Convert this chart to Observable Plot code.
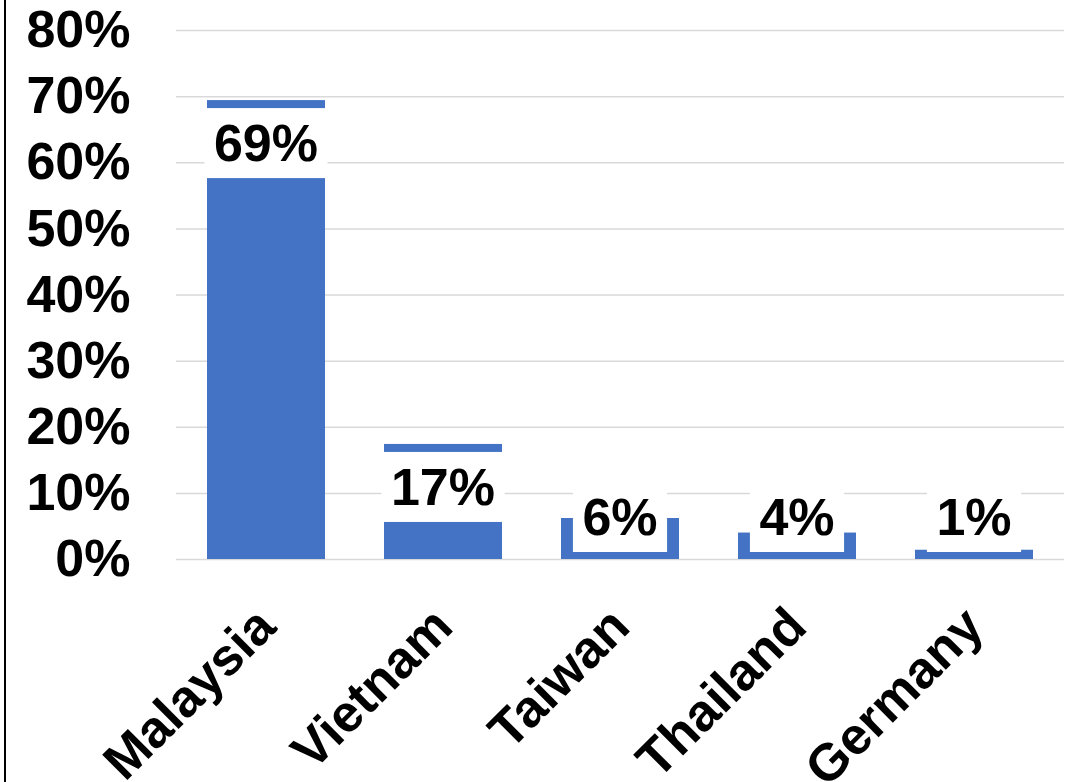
<!DOCTYPE html>
<html>
<head>
<meta charset="utf-8">
<script src="https://cdn.jsdelivr.net/npm/d3@7"></script>
<script src="https://cdn.jsdelivr.net/npm/@observablehq/plot@0.6"></script>
<style>
  html, body { margin: 0; padding: 0; background: #fff; }
  #wrap { position: relative; width: 1066px; height: 782px; overflow: hidden; }
  #edge { position: absolute; left: 4px; top: 0; width: 2px; height: 782px; background: #000; }
</style>
</head>
<body>
<div id="wrap"><div id="edge"></div></div>
<script>
const countries = ["Malaysia", "Vietnam", "Taiwan", "Thailand", "Germany"];
const shares = [0.694, 0.174, 0.062, 0.04, 0.014];
const labels = ["69%", "17%", "6%", "4%", "1%"];
const yTicks = [0, 0.1, 0.2, 0.3, 0.4, 0.5, 0.6, 0.7, 0.8];

const data = countries.map((c, i) => ({country: c, share: shares[i], label: labels[i]}));

const FONT = "'Liberation Sans', Arial, sans-serif";
const BLUE = "#4472C4";

const labelMark = Plot.text(data, {
  x: "country",
  y: "share",
  text: "label",
  render(index, scales, values, dimensions, context) {
    const g = d3.create("svg:g");
    const xs = scales.x;
    const bw = typeof xs.bandwidth === "function" ? xs.bandwidth() : 0;
    const y0 = scales.y(0);
    const ctx = document.createElement("canvas").getContext("2d");
    ctx.font = `bold 52px ${FONT}`;
    for (const i of index) {
      const d = data[i];
      const cx = xs(d.country) + bw / 2;
      const cy = Math.min(scales.y(d.share) + 43, y0 - 42);
      const w = ctx.measureText(d.label).width + 19;
      g.append("rect")
        .attr("x", cx - w / 2).attr("y", cy - 35)
        .attr("width", w).attr("height", 70)
        .attr("fill", "#fff");
      g.append("text")
        .attr("x", cx).attr("y", cy + 18)
        .attr("text-anchor", "middle")
        .attr("font-family", FONT)
        .attr("font-weight", "bold")
        .attr("font-size", 52)
        .attr("fill", "#000")
        .text(d.label);
    }
    return g.node();
  }
});

const chart = Plot.plot({
  width: 1066,
  height: 782,
  marginTop: 30,
  marginBottom: 223,
  marginLeft: 176,
  marginRight: 2,
  style: {fontFamily: FONT, background: "transparent"},
  x: {domain: countries, paddingInner: 1/3, paddingOuter: 1/6, label: null},
  y: {domain: [0, 0.8], label: null},
  marks: [
    Plot.gridY(yTicks, {stroke: "#d9d9d9", strokeOpacity: 1, strokeWidth: 1.5}),
    Plot.barY(data, {x: "country", y: "share", fill: BLUE}),
    labelMark,
    Plot.axisY(yTicks, {
      tickSize: 0, tickPadding: 46, tickFormat: d3.format(".0%"),
      fontSize: 52, fontWeight: "bold", fill: "#000", label: null
    }),
    Plot.axisX({
      tickSize: 0, tickPadding: 58, tickRotate: -45,
      fontSize: 52, fontWeight: "bold", fill: "#000", label: null
    })
  ]
});
document.getElementById("wrap").appendChild(chart);
</script>
</body>
</html>
